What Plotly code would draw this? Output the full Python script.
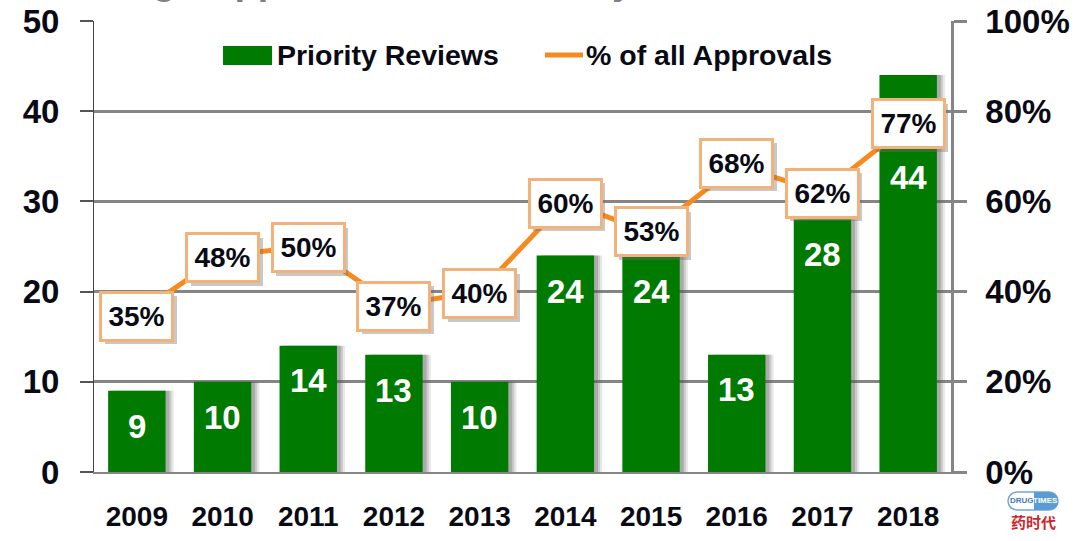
import plotly.graph_objects as go

years = ["2009", "2010", "2011", "2012", "2013", "2014", "2015", "2016", "2017", "2018"]
priority_reviews = [9, 10, 14, 13, 10, 24, 24, 13, 28, 44]
pct_of_approvals = [0.35, 0.48, 0.50, 0.37, 0.40, 0.60, 0.53, 0.68, 0.62, 0.77]
left_ticks = [0, 10, 20, 30, 40, 50]
right_ticks = [0, 0.2, 0.4, 0.6, 0.8, 1.0]

W, H = 1080, 541
L, R, T, B = 94, 951, 21, 472
FONT = "Liberation Sans"
GREEN = "#007A00"
ORANGE = "#F58A1F"
BOX = "#F3B27A"
GRAY = "#858585"
INK = "#0A0A14"


def px(x):
    return (x - L) / (R - L)


def py(y):
    return (B - y) / (B - T)


def bold(s):
    return f"<b>{s}</b>"


fig = go.Figure()
# soft bar shadow
for dx, op in [(0.095, 0.14), (0.07, 0.2), (0.045, 0.28)]:
    fig.add_bar(x=years, y=priority_reviews, width=0.67, offset=-0.335 + dx,
                marker=dict(color=f"rgba(90,90,90,{op})", line_width=0),
                showlegend=False, hoverinfo="skip")
fig.add_bar(x=years, y=priority_reviews, name="Priority Reviews", width=0.67, offset=-0.335,
            marker=dict(color=GREEN, line_width=0), showlegend=False)
fig.add_scatter(x=years, y=pct_of_approvals, name="% of all Approvals", yaxis="y2",
                mode="lines", line=dict(color=ORANGE, width=5), showlegend=False)

annotations = []
# white values inside the bars
bar_label_drop = [36, 36, 35, 36, 36, 36, 36, 35, 35, 102]
for i, (v, d) in enumerate(zip(priority_reviews, bar_label_drop)):
    annotations.append(dict(x=i, y=v, xref="x", yref="y", text=bold(v), showarrow=False, yanchor="middle",
                            xanchor="center", yshift=-d, font=dict(family=FONT, size=33, color="white")))
# boxed percentage labels with a drop shadow
box_shift = [-2, -2, -1, -1, -2, -2, 1, 2, -1, 1]
for i, (v, s) in enumerate(zip(pct_of_approvals, box_shift)):
    lbl = f"{round(v * 100)}%"
    annotations.append(dict(x=i, y=v, xref="x", yref="y2", text=" ", showarrow=False, width=70, height=46,
                            xanchor="center", yanchor="middle", xshift=4, yshift=s - 4,
                            bgcolor="rgba(110,110,110,0.38)", borderwidth=0))
    annotations.append(dict(x=i, y=v, xref="x", yref="y2", text=bold(lbl), showarrow=False, width=67, height=43,
                            xanchor="center", yanchor="middle", yshift=s, bgcolor="white",
                            bordercolor=BOX, borderwidth=3,
                            font=dict(family=FONT, size=28, color=INK)))

shapes = []
# legend
shapes.append(dict(type="rect", xref="paper", yref="paper", x0=px(223), x1=px(272), y0=py(65), y1=py(46),
                   fillcolor=GREEN, line_width=0, layer="above"))
shapes.append(dict(type="line", xref="paper", yref="paper", x0=px(545), x1=px(583), y0=py(55), y1=py(55),
                   line=dict(color=ORANGE, width=5), layer="above"))
for x0, txt in [(275, "Priority Reviews"), (584, "% of all Approvals")]:
    annotations.append(dict(xref="paper", yref="paper", x=px(x0), y=py(55), xanchor="left", yanchor="middle",
                            text=bold(txt), showarrow=False, font=dict(family=FONT, size=28.5, color=INK)))

# clipped remains of the slide title
for x0, anchor, txt in [(178, "right", "Drug"), (205, "left", "Approvals"), (622, "center", "y")]:
    annotations.append(dict(xref="paper", yref="paper", x=px(x0), y=py(-19), xanchor=anchor, yanchor="middle",
                            text=bold(txt), showarrow=False, font=dict(family=FONT, size=38, color="#7F7F7F")))


# logo
def pill(x0, x1, y0, y1):
    r = (y1 - y0) / 2
    k = r * 0.55
    d = f"M{px(x0 + r)},{py(y0)} L{px(x1 - r)},{py(y0)} "
    d += f"C{px(x1 - r + k)},{py(y0)} {px(x1)},{py(y0 + r - k)} {px(x1)},{py(y0 + r)} "
    d += f"C{px(x1)},{py(y0 + r + k)} {px(x1 - r + k)},{py(y1)} {px(x1 - r)},{py(y1)} "
    d += f"L{px(x0 + r)},{py(y1)} "
    d += f"C{px(x0 + r - k)},{py(y1)} {px(x0)},{py(y0 + r + k)} {px(x0)},{py(y0 + r)} "
    d += f"C{px(x0)},{py(y0 + r - k)} {px(x0 + r - k)},{py(y0)} {px(x0 + r)},{py(y0)} Z"
    return d


shapes.append(dict(type="path", xref="paper", yref="paper", path=pill(1008, 1058, 492, 510),
                   fillcolor="white", line=dict(color="#6FA8DC", width=1.5)))
tp = (f"M{px(1034)},{py(492)} L{px(1049)},{py(492)} C{px(1054)},{py(492)} {px(1058)},{py(496)} {px(1058)},{py(501)} "
      f"C{px(1058)},{py(506)} {px(1054)},{py(510)} {px(1049)},{py(510)} L{px(1034)},{py(510)} Z")
shapes.append(dict(type="path", xref="paper", yref="paper", path=tp, fillcolor="#5B9BD5", line_width=0))
annotations.append(dict(xref="paper", yref="paper", x=px(1021.5), y=py(501), text=bold("DRUG"), showarrow=False,
                        xanchor="center", yanchor="middle", borderpad=0,
                        font=dict(family=FONT, size=8, color="#3F78B5")))
annotations.append(dict(xref="paper", yref="paper", x=px(1045.5), y=py(501), text=bold("TIMES"), showarrow=False,
                        xanchor="center", yanchor="middle", borderpad=0,
                        font=dict(family=FONT, size=8, color="white")))
annotations.append(dict(xref="paper", yref="paper", x=px(1033), y=py(521), text=bold("药时代"), showarrow=False,
                        xanchor="center", yanchor="middle", borderpad=0,
                        font=dict(family="Noto Sans CJK SC", size=15, color="#C8282D")))

fig.update_layout(
    width=W, height=H, autosize=False,
    margin=dict(l=L, r=W - R, t=T, b=H - B, pad=0, autoexpand=False),
    paper_bgcolor="white", plot_bgcolor="white",
    barmode="overlay", showlegend=False,
    xaxis=dict(type="category", categoryorder="array", categoryarray=years, range=[-0.5, 9.5],
               showgrid=False, showline=True, linecolor=GRAY, linewidth=2, ticks="", ticklen=0,
               ticklabelstandoff=18,
               tickfont=dict(family=FONT, size=28, color=INK, weight=700)),
    yaxis=dict(range=[0, 50], tickvals=left_ticks, showgrid=True, gridcolor=GRAY, gridwidth=2.5,
               zeroline=False, showline=True, linecolor="#444444", linewidth=1, ticks="outside", ticklen=13,
               tickcolor="#555555", tickwidth=1.5, ticklabelstandoff=14,
               tickfont=dict(family=FONT, size=33, color=INK, weight=700)),
    yaxis2=dict(range=[0, 1], overlaying="y", side="right", tickvals=right_ticks, tickformat=".0%", showgrid=False,
                zeroline=False, showline=True, linecolor=GRAY, linewidth=2.5, ticks="outside", ticklen=13,
                tickcolor=GRAY, tickwidth=2.5, ticklabelstandoff=12,
                tickfont=dict(family=FONT, size=33, color=INK, weight=700)),
    annotations=annotations, shapes=shapes,
)
fig.write_html("out.html", config={"displayModeBar": False},
               post_script="document.body.style.margin='0';document.body.style.overflow='hidden';")
